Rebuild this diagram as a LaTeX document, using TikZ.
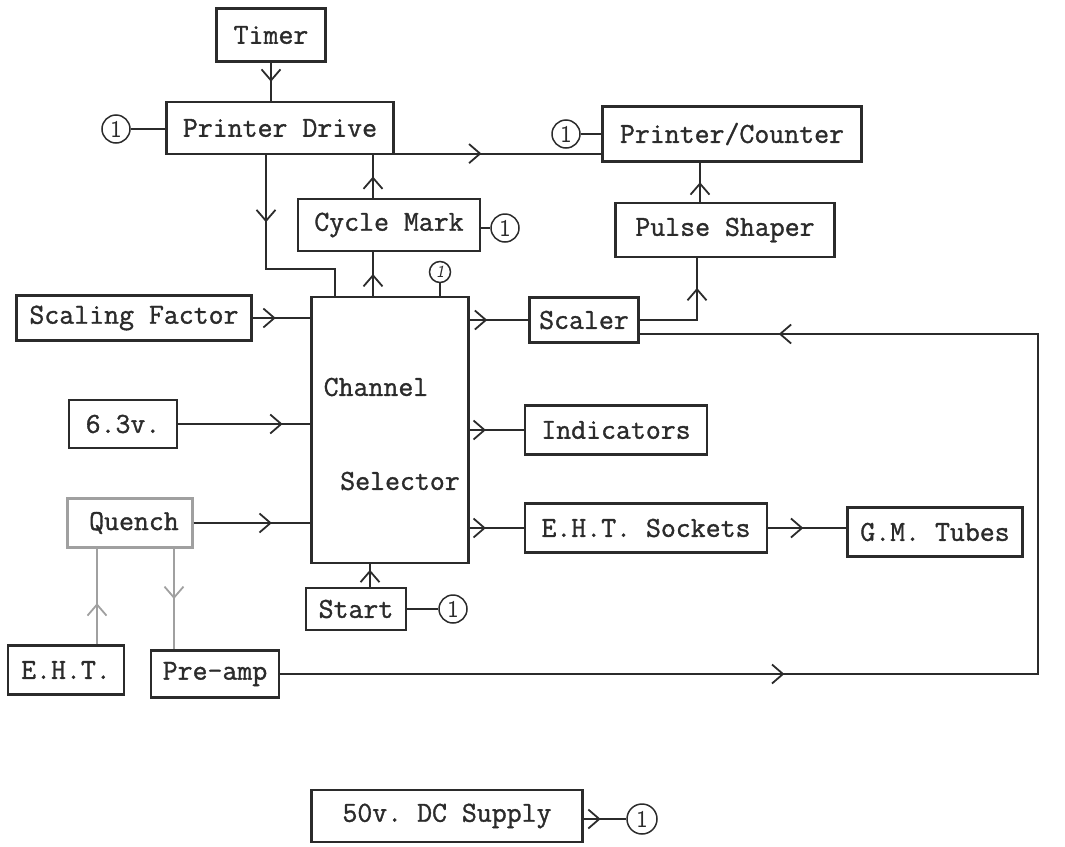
\documentclass[tikz,border=0pt]{standalone}
\usepackage{fontspec}
\setmonofont{Latin Modern Mono}[FakeBold=1.2]
\usetikzlibrary{arrows.meta,decorations.markings}
\definecolor{ink}{HTML}{2B2B2B}
\definecolor{pencil}{HTML}{A0A0A0}

\begin{document}
\begin{tikzpicture}[x=1pt,y=-1pt,color=ink,>={Straight Barb[length=11pt,width=19pt]},
	box/.style={draw,line width=2.2pt,inner sep=0pt,minimum height=50pt,font=\fontsize{29}{30}\selectfont\ttfamily\bfseries},
	lbl/.style={inner sep=0pt,font=\fontsize{29}{30}\selectfont\ttfamily\bfseries},
	one/.style={draw,circle,line width=1.5pt,inner sep=0pt,minimum size=28pt,font=\fontsize{24}{24}\selectfont\sffamily},
	wire/.style={line width=1.8pt},
	arr/.style={wire,decoration={markings,mark=at position #1 with {\arrow{>}}},postaction={decorate}},
	arr/.default=0.5,
	pale/.style={color=pencil}]

	\useasboundingbox (0,0) rectangle (1065,846);

	\node[box,minimum width=109pt,minimum height=53pt] (timer) at (271,35) {Timer};
	\node[box,minimum width=227pt,minimum height=52pt] (pdrive) at (280,128) {Printer Drive};
	\node[box,minimum width=259pt,minimum height=55pt] (pcount) at (732,134) {Printer/Counter};
	\node[box,minimum width=182pt,minimum height=52pt] (cycle) at (389,225) {Cycle Mark};
	\node[box,minimum width=219pt,minimum height=54pt] (pulse) at (725,230) {Pulse Shaper};
	\node[box,minimum width=235pt,minimum height=45pt] (sfactor) at (134,318) {Scaling Factor};
	\node[box,minimum width=109pt,minimum height=45pt] (scaler) at (584,320) {Scaler};
	\node[box,minimum width=157pt,minimum height=266pt] (chsel) at (390,430) {};
	\node[lbl] (chan) at (376,387) {Channel};
	\node[lbl] (sel) at (400,481) {Selector};
	\node[box,minimum width=108pt,minimum height=48pt] (v63) at (123,424) {6.3v.};
	\node[box,minimum width=182pt,minimum height=49pt] (indic) at (616,430) {Indicators};
	\node[box,draw=pencil,minimum width=125pt,minimum height=49pt] (quench) at (130,523) {\hspace{8pt}Quench};
	\node[box,minimum width=242pt,minimum height=49pt] (ehts) at (646,528) {E.H.T. Sockets};
	\node[box,minimum width=175pt,minimum height=49pt] (gm) at (935,532) {G.M. Tubes};
	\node[box,minimum width=100pt,minimum height=42pt] (start) at (356,609) {Start};
	\node[box,minimum width=116pt,minimum height=49pt] (eht) at (66,670) {E.H.T.};
	\node[box,minimum width=128pt,minimum height=47pt] (preamp) at (215,674) {Pre-amp};
	\node[box,minimum width=271pt,minimum height=52pt] (dc) at (447,816) {50v. DC Supply\hspace{22pt}};

	\node[one] (c1) at (116,129) {1};
	\node[one] (c2) at (566,134) {1};
	\node[one] (c3) at (505,228) {1};
	\node[one,minimum size=21pt,font=\fontsize{17}{17}\selectfont\sffamily\itshape] (c4) at (440,272) {1};
	\node[one] (c5) at (453,609) {1};
	\node[one,minimum size=30pt] (c6) at (642,819) {1};

	\coordinate (rt) at (1038,334);

	\draw[arr] (timer.south) -- (timer.south |- pdrive.north);
	\draw[wire] (c1) -- (pdrive.west |- c1);
	\draw[arr=0.42] ([yshift=1.5pt]pdrive.south east) -- ([yshift=1.5pt]pdrive.south east -| pcount.west);
	\draw[wire] (c2) -- (pcount.west |- c2);
	\draw[arr] ([xshift=-16pt]cycle.north) -- ([xshift=-16pt]cycle.north |- pdrive.south);
	\draw[wire] (cycle.east |- c3) -- (c3);
	\draw[arr=0.32] ([xshift=-14pt]pdrive.south) -- ++(0,114) -| ([xshift=-55pt]chsel.north);
	\draw[arr] ([xshift=-17pt]chsel.north) -- ([xshift=-17pt]chsel.north |- cycle.south);
	\draw[wire] (c4) -- (c4 |- chsel.north);
	\draw[arr] ([xshift=-25pt]pulse.north) -- ([xshift=-25pt]pulse.north |- pcount.south);
	\draw[arr=0.75] (scaler.east) -| ([xshift=-28pt]pulse.south);

	\draw[arr=0.4] (sfactor.east) -- (sfactor.east -| chsel.west);
	\draw[arr=0.79] (v63.east) -- (v63.east -| chsel.west);
	\draw[arr=0.67] (quench.east) -- (quench.east -| chsel.west);
	\draw[arr=0.3] (chsel.east |- scaler) -- (scaler.west);
	\draw[arr=0.3] (chsel.east |- indic) -- (indic.west);
	\draw[arr=0.3] (chsel.east |- ehts) -- (ehts.west);
	\draw[arr=0.45] (ehts.east) -- (ehts.east -| gm.west);

	\draw[arr=0.75] ([xshift=14pt]start.north) -- ([xshift=14pt]start.north |- chsel.south);
	\draw[wire] (start.east) -- (c5);
	\draw[arr=0.43,pale] ([xshift=31pt]eht.north) -- ([xshift=31pt]eht.north |- quench.south);
	\draw[arr=0.5,pale] ([xshift=44pt]quench.south) -- ([xshift=44pt]quench.south |- preamp.north);

	\draw[wire,line join=miter,decoration={markings,
		mark=at position 0.337 with {\arrow{>}},
		mark=at position 0.907 with {\arrow{>}}},postaction={decorate}]
		(preamp.east) -- (preamp.east -| rt) -- (rt) -- (rt -| scaler.east);

	\draw[arr=0.4] (dc.east |- c6) -- (c6);
\end{tikzpicture}
\end{document}
